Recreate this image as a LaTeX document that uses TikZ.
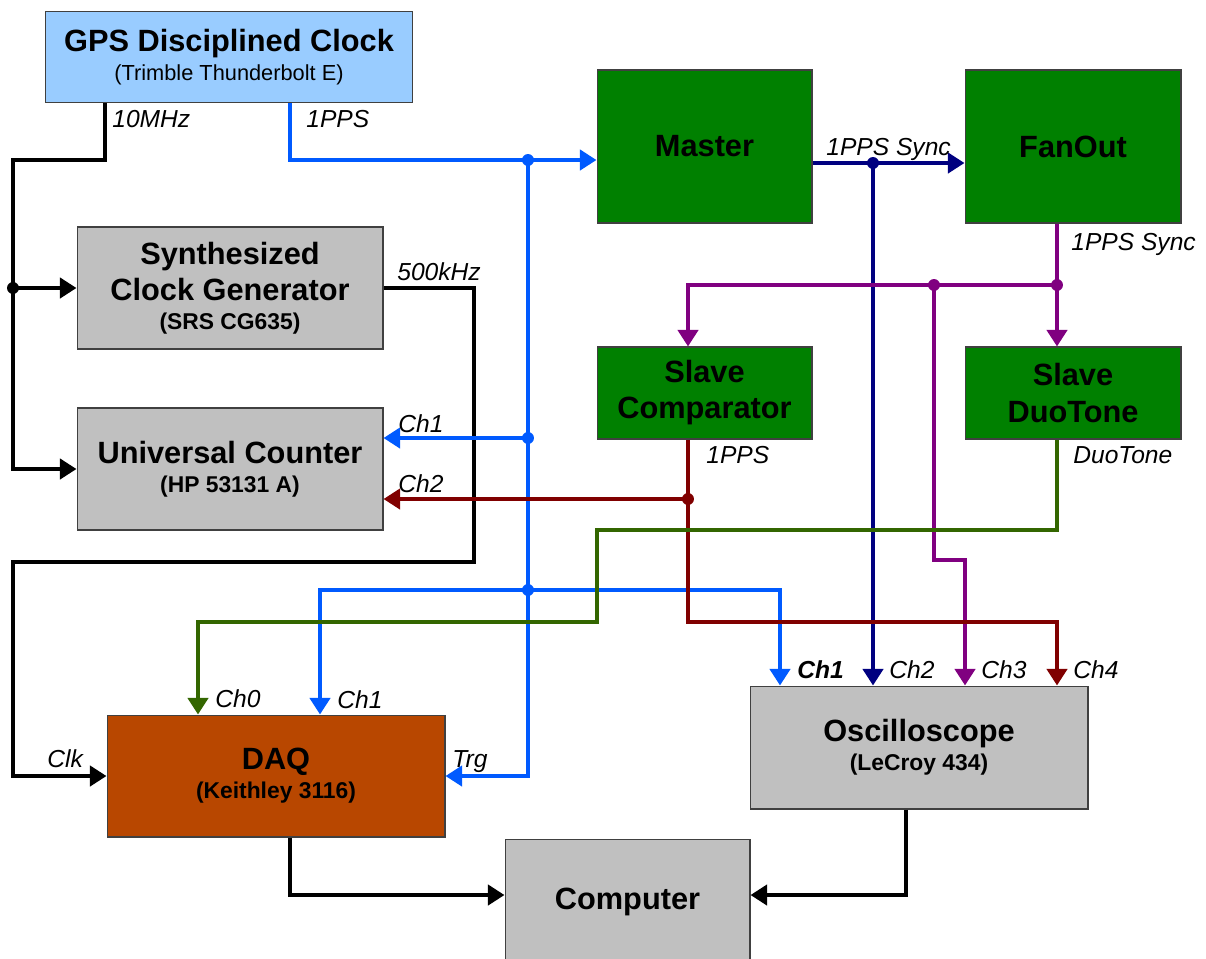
\documentclass[tikz,border=0pt]{standalone}
\usepackage{fontspec}
\setmainfont{Liberation Sans}
\usetikzlibrary{arrows.meta}

\definecolor{gpsblue}{RGB}{153,204,255}
\definecolor{boxgray}{RGB}{192,192,192}
\definecolor{boxgreen}{RGB}{0,128,0}
\definecolor{daqbrown}{RGB}{184,71,0}
\definecolor{wblue}{RGB}{0,90,255}
\definecolor{wnavy}{RGB}{0,0,128}
\definecolor{wpurple}{RGB}{128,0,128}
\definecolor{wdred}{RGB}{128,0,0}
\definecolor{wolive}{RGB}{51,102,0}

\newcommand{\ttlfont}{\fontsize{17.5}{20.5}\selectfont\bfseries}
\newcommand{\subbf}{\fontsize{13}{15}\selectfont\bfseries}
\newcommand{\subrm}{\fontsize{12.4}{15}\selectfont\mdseries}

\begin{document}
\begin{tikzpicture}[>={Triangle[length=9.5pt,width=11.5pt]}, x=0.02cm, y=-0.02cm,
  box/.style={draw=black!75, line width=0.6pt, inner sep=0pt, align=center, font=\ttlfont},
  wire/.style={line width=2.3pt},
  wblk/.style={wire, black},
  wblu/.style={wire, wblue},
  wnav/.style={wire, wnavy},
  wpur/.style={wire, wpurple},
  wred/.style={wire, wdred},
  wolv/.style={wire, wolive},
  lab/.style={inner sep=0pt, anchor=base west, font=\fontsize{14}{16}\selectfont\itshape}]

\useasboundingbox (0,0) rectangle (1206,958);

%=== Блоки ===
\node[box, fill=gpsblue, minimum width=7.36cm, minimum height=1.82cm] (gps) at (229,57)
  {GPS Disciplined Clock\\[-4pt]{\subrm (Trimble Thunderbolt E)}};
\node[box, fill=boxgray, minimum width=6.12cm, minimum height=2.44cm] (synth) at (230,288)
  {Synthesized\\Clock Generator\\[-4pt]{\subbf (SRS CG635)}};
\node[box, fill=boxgray, minimum width=6.12cm, minimum height=2.44cm] (counter) at (230,469)
  {Universal Counter\\[-4pt]{\subbf (HP 53131 A)}};
\node[box, fill=boxgreen, minimum width=4.30cm, minimum height=3.06cm] (master) at (704.5,146.5)
  {Master};
\node[box, fill=boxgreen, minimum width=4.32cm, minimum height=3.06cm] (fanout) at (1073,146.5)
  {FanOut};
\node[box, fill=boxgreen, minimum width=4.30cm, minimum height=1.84cm] (slavec) at (704.5,393)
  {Slave\\Comparator};
\node[box, fill=boxgreen, minimum width=4.32cm, minimum height=1.84cm] (slaved) at (1073,393)
  {Slave\\DuoTone};
\node[box, fill=daqbrown, minimum width=6.76cm, minimum height=2.44cm] (daq) at (276,776)
  {DAQ\\[-4pt]{\subbf (Keithley 3116)}};
\node[box, fill=boxgray, minimum width=6.76cm, minimum height=2.46cm] (scope) at (919,747.5)
  {Oscilloscope\\[-4pt]{\subbf (LeCroy 434)}};
\node[box, fill=boxgray, minimum width=4.90cm, minimum height=2.50cm] (computer) at (627.5,902)
  {Computer};

%=== Узлы проводов ===
\coordinate (c10) at (105,160);
\coordinate (cL)  at (13,160);
\coordinate (d10) at (13,288);
\coordinate (cP)  at (290,160);
\coordinate (dM)  at (528,160);
\coordinate (dC)  at (528,438);
\coordinate (dD)  at (528,590);
\coordinate (cD1) at (320,590);
\coordinate (cS1) at (780,590);
\coordinate (c5b) at (474,562);
\coordinate (c5c) at (13,562);
\coordinate (dS)  at (873,163);
\coordinate (dF)  at (1057,285);
\coordinate (dP)  at (934,285);
\coordinate (cPc) at (688,285);
\coordinate (cP3a) at (934,560);
\coordinate (cP3b) at (965,560);
\coordinate (dR)  at (688,499);
\coordinate (cR)  at (688,622);
\coordinate (cR4) at (1057,622);
\coordinate (cG1) at (1057,530);
\coordinate (cG2) at (597,530);
\coordinate (cG3) at (597,622);
\coordinate (cG4) at (198,622);
\coordinate (cQ)  at (290,895);
\coordinate (cO)  at (906,895);

%=== 10MHz и 500kHz ===
\draw[wblk,->] (gps.south -| c10) -- (c10) -- (cL) |- (counter.west);
\draw[wblk,->] (d10) -- (synth.west);
\fill (d10) circle (3.4pt);
\draw[wblk,->] (synth.east) -| (c5b) -- (c5c) |- (daq.west);

%=== 1PPS ===
\draw[wblu,->] (gps.south -| cP) -- (cP) -- (master.west |- cP);
\draw[wblu,->] (dM) |- (daq.east);
\draw[wblu,->] (dC) -- (counter.east |- dC);
\draw[wblu,->] (dD) -- (cD1) -- (daq.north -| cD1);
\draw[wblu,->] (dD) -- (cS1) -- (scope.north -| cS1);
\foreach \d in {dM,dC,dD} \fill[wblue] (\d) circle (3.4pt);

% 1PPS Sync
\draw[wnav,->] (master.east |- dS) -- (fanout.west |- dS);
\draw[wnav,->] (dS) -- (scope.north -| dS);
\fill[wnavy] (dS) circle (3.4pt);

\draw[wpur,->] (fanout.south -| dF) -- (slaved.north -| dF);
\draw[wpur,->] (dF) -- (cPc) -- (slavec.north -| cPc);
\draw[wpur,->] (dP) -- (cP3a) -- (cP3b) -- (scope.north -| cP3b);
\foreach \d in {dF,dP} \fill[wpurple] (\d) circle (3.4pt);

% компаратор и DuoTone
\draw[wred,->] (slavec.south -| dR) -- (cR) -- (cR4) -- (scope.north -| cR4);
\draw[wred,->] (dR) -- (counter.east |- dR);
\fill[wdred] (dR) circle (3.4pt);
\draw[wolv,->] (slaved.south -| cG1) -- (cG1) -- (cG2) -- (cG3) -- (cG4) -- (daq.north -| cG4);

%=== К компьютеру ===
\draw[wblk,->] (daq.south -| cQ) -- (cQ) -- (computer.west |- cQ);
\draw[wblk,->] (scope.south -| cO) -- (cO) -- (computer.east |- cO);

%=== Подписи ===
\node[lab] (l10m)  at (112,127) {10MHz};
\node[lab] (l1pps) at (306,127) {1PPS};
\node[lab] (l500)  at (397,280) {500kHz};
\node[lab] (lcch1) at (398,432) {Ch1};
\node[lab] (lcch2) at (398,492) {Ch2};
\node[lab] (lsync) at (826,155) {1PPS Sync};
\node[lab] (lfan)  at (1071,250) {1PPS Sync};
\node[lab] (lcmp)  at (706,463) {1PPS};
\node[lab] (lduo)  at (1073,463) {DuoTone};
\node[lab] (ldch0) at (215,707) {Ch0};
\node[lab] (ldch1) at (337,708) {Ch1};
\node[lab] (lclk)  at (47,767) {Clk};
\node[lab] (ltrg)  at (452,767) {Trg};
\node[lab, font=\fontsize{14}{16}\selectfont\itshape\bfseries] (lsch1) at (797,678) {Ch1};
\foreach \xp/\lab/\nm in {889/Ch2/lsch2, 981/Ch3/lsch3, 1073/Ch4/lsch4}
  \node[lab] (\nm) at (\xp,678) {\lab};

\end{tikzpicture}
\end{document}
